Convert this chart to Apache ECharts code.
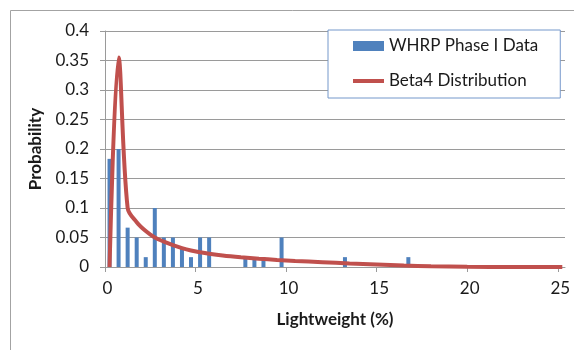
<!DOCTYPE html>
<html>
<head>
<meta charset="utf-8">
<script src="https://cdn.jsdelivr.net/npm/echarts@6/dist/echarts.min.js"></script>
<style>
  html, body { margin: 0; padding: 0; background: #fff; }
  #chart { width: 574px; height: 350px; }
</style>
</head>
<body>
<div id="chart"></div>
<script>
// Observed lightweight-aggregate content, binned at 0.5 % (bin midpoints)
const binMid = [0.25, 0.75, 1.25, 1.75, 2.25, 2.75, 3.25, 3.75, 4.25, 4.75, 5.25, 5.75, 7.75, 8.25, 8.75, 9.75, 13.25, 16.75];
const observedProb = [0.1833, 0.2, 0.0667, 0.05, 0.0167, 0.1, 0.05, 0.05, 0.0333, 0.0167, 0.05, 0.05, 0.0167, 0.0167, 0.0167, 0.05, 0.0167, 0.0167];

// Fitted Beta4 distribution
const fitX = [0.25, 0.75, 1.25, 1.75, 2.25, 2.75, 3.25, 3.75, 4.25, 4.75, 5.25, 5.75, 6.5, 7.5, 8.5, 9.5, 10.5, 12, 13.5, 15, 16.5, 18, 20, 22.5, 25.25];
const fitProb = [0, 0.355, 0.1, 0.076, 0.061, 0.05, 0.043, 0.037, 0.032, 0.028, 0.025, 0.0225, 0.0195, 0.0165, 0.014, 0.012, 0.0103, 0.0082, 0.006, 0.0042, 0.0025, 0.0012, 0.0003, 0, 0];

const xTicks = [0, 5, 10, 15, 20, 25];

const FONT = 'Lato';
const TEXT = '#1a1a1a';
const GRID = '#9a9a9a';

const chart = echarts.init(document.getElementById('chart'), null, { renderer: 'canvas' });

chart.setOption({
  animation: false,
  backgroundColor: '#fff',
  textStyle: { fontFamily: FONT, color: TEXT },
  graphic: [{
    type: 'rect',
    shape: { x: 10.5, y: 10.5, width: 700, height: 500 },
    style: { fill: null, stroke: '#a3a3a3', lineWidth: 1 },
    silent: true,
    z: -10
  }],
  grid: { left: 105, right: 9, top: 31, bottom: 83, containLabel: false },
  legend: {
    orient: 'vertical',
    left: 328,
    top: 30,
    padding: [6, 22, 7, 23],
    itemGap: 15,
    itemWidth: 31,
    itemHeight: 10,
    backgroundColor: '#fff',
    borderColor: '#7598cb',
    borderWidth: 1,
    textStyle: { fontFamily: FONT, fontSize: 17, color: TEXT, lineHeight: 20 },
    data: [
      { name: 'WHRP Phase I Data', icon: 'rect' },
      { name: 'Beta4 Distribution', itemStyle: { opacity: 0 }, lineStyle: { width: 4, color: '#c0504d' } }
    ]
  },
  xAxis: {
    type: 'value',
    min: 0,
    max: 25.4,
    name: 'Lightweight (%)',
    nameLocation: 'middle',
    nameGap: 44,
    nameTextStyle: { fontFamily: FONT, fontSize: 17, fontWeight: 'bold', color: TEXT },
    axisLine: { show: true, onZero: false, lineStyle: { color: GRID, width: 1 } },
    axisTick: { show: true, inside: false, length: 5, customValues: xTicks, lineStyle: { color: GRID } },
    axisLabel: { customValues: xTicks, margin: 13, padding: [0, 0, 0, 5], fontFamily: FONT, fontSize: 17, color: TEXT },
    splitLine: { show: false }
  },
  yAxis: {
    type: 'value',
    min: 0,
    max: 0.4,
    interval: 0.05,
    name: 'Probability',
    nameLocation: 'middle',
    nameRotate: 90,
    nameGap: 58,
    nameTextStyle: { fontFamily: FONT, fontSize: 17, fontWeight: 'bold', color: TEXT },
    axisLine: { show: true, lineStyle: { color: GRID, width: 1 } },
    axisTick: { show: true, inside: false, length: 5, lineStyle: { color: GRID } },
    axisLabel: { margin: 16, fontFamily: FONT, fontSize: 17, color: TEXT },
    splitLine: { show: true, lineStyle: { color: GRID, width: 1 } }
  },
  series: [
    {
      name: 'WHRP Phase I Data',
      type: 'bar',
      barWidth: 4,
      itemStyle: { color: '#4f81bd' },
      data: binMid.map((x, i) => [x, observedProb[i]]),
      z: 2
    },
    {
      name: 'Beta4 Distribution',
      type: 'line',
      smooth: 0.35,
      symbol: 'none',
      lineStyle: { color: '#c0504d', width: 4 },
      itemStyle: { color: '#c0504d' },
      data: fitX.map((x, i) => [x, fitProb[i]]),
      z: 3
    }
  ]
});
</script>
</body>
</html>
